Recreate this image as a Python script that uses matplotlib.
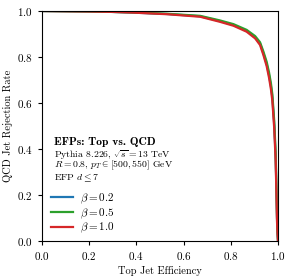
import numpy as np
import matplotlib
matplotlib.use("Agg")
import matplotlib.pyplot as plt

plt.rcParams['font.family'] = 'serif'
plt.rcParams['font.serif'] = ['cmr10']
plt.rcParams['mathtext.fontset'] = 'cm'
plt.rcParams['axes.formatter.use_mathtext'] = True

# ROC curves (top jet efficiency, QCD rejection)
eff_10 = [0.0, 0.1, 0.2, 0.3, 0.386, 0.53, 0.67, 0.754, 0.811, 0.867, 0.903, 0.924, 0.938,
          0.952, 0.962, 0.970, 0.976, 0.984, 0.990, 0.993, 0.996, 0.998, 1.0]
rej_10 = [1.0, 0.999, 0.998, 0.996, 0.993, 0.986, 0.975, 0.953, 0.936, 0.910, 0.881, 0.852,
          0.809, 0.760, 0.710, 0.660, 0.610, 0.490, 0.350, 0.220, 0.080, 0.030, 0.0]
eff_05 = [0.0, 0.1, 0.2, 0.3, 0.386, 0.53, 0.67, 0.754, 0.811, 0.867, 0.903, 0.924, 0.938,
          0.952, 0.962, 0.970, 0.976, 0.984, 0.990, 0.993, 0.996, 0.998, 1.0]
rej_05 = [1.0, 0.999, 0.998, 0.996, 0.994, 0.988, 0.979, 0.959, 0.943, 0.918, 0.891, 0.864,
          0.824, 0.779, 0.733, 0.686, 0.638, 0.522, 0.385, 0.250, 0.100, 0.040, 0.0]
eff_02 = [0.0, 0.1, 0.2, 0.3, 0.386, 0.53, 0.67, 0.754, 0.811, 0.867, 0.903, 0.924, 0.938,
          0.952, 0.962, 0.970, 0.976, 0.984, 0.990, 0.993, 0.996, 0.998, 1.0]
rej_02 = [1.0, 0.999, 0.998, 0.996, 0.993, 0.987, 0.977, 0.956, 0.939, 0.914, 0.886, 0.858,
          0.816, 0.769, 0.721, 0.673, 0.624, 0.506, 0.367, 0.235, 0.090, 0.035, 0.0]

betas = ['0.2', '0.5', '1.0']
colors = ['#1f77b4', '#2ca02c', '#d62728']

fig = plt.figure(figsize=(3.01, 2.79), dpi=100)
ax = fig.add_axes([42 / 301, 38 / 279, 236 / 301, 230 / 279])

for (e, r), b, c in zip([(eff_02, rej_02), (eff_05, rej_05), (eff_10, rej_10)], betas, colors):
    ax.plot(e, r, color=c, lw=1.6, label=r'$\beta = %s$' % b)

ax.set_xlim(0, 1)
ax.set_ylim(0, 1)
ax.set_xticks(np.arange(0, 1.01, 0.2))
ax.set_yticks(np.arange(0, 1.01, 0.2))
ax.tick_params(labelsize=8, length=3, width=0.8)
ax.set_xlabel('Top Jet Efficiency', fontsize=7.5, labelpad=3)
ax.set_ylabel('QCD Jet Rejection Rate', fontsize=7.5, labelpad=3)

# annotation block
ax.text(0.051, 0.43, 'EFPs: Top vs. QCD', transform=ax.transAxes, fontsize=8.3,
        family='cmb10', va='center')
ax.text(0.051, 0.378, r'Pythia 8.226, $\sqrt{s} = 13$ TeV', transform=ax.transAxes,
        fontsize=7, va='center')
ax.text(0.051, 0.327, r'$R = 0.8$, $p_T \in [500,550]$ GeV', transform=ax.transAxes,
        fontsize=7, va='center')
ax.text(0.051, 0.276, r'EFP $d \leq 7$', transform=ax.transAxes, fontsize=7, va='center')

ax.legend(loc='upper left', bbox_to_anchor=(0.02, 0.235), frameon=False, fontsize=8,
          handlelength=2.0, handletextpad=0.6, labelspacing=0.05, borderaxespad=0.0)

fig.savefig('out.png', dpi=100)
